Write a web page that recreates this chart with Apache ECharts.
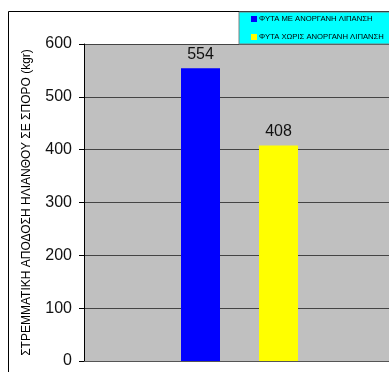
<!DOCTYPE html>
<html>
<head>
<meta charset="utf-8">
<script src="https://cdn.jsdelivr.net/npm/echarts@6/dist/echarts.min.js"></script>
<style>
  html, body { margin: 0; padding: 0; background: #fff; }
  #chart { width: 389px; height: 372px; }
</style>
</head>
<body>
<div id="chart"></div>
<script>
// δεδομένα
const categories = ["ΗΛΙΑΝΘΟΣ"];
const seriesNames = ["ΦΥΤΑ ΜΕ ΑΝΟΡΓΑΝΗ ΛΙΠΑΝΣΗ", "ΦΥΤΑ ΧΩΡΙΣ ΑΝΟΡΓΑΝΗ ΛΙΠΑΝΣΗ"];
const withFertilizer = [554];
const withoutFertilizer = [408];
const yTicks = [0, 100, 200, 300, 400, 500, 600];

const chart = echarts.init(document.getElementById("chart"));

const option = {
  animation: false,
  textStyle: { fontFamily: "Liberation Sans, Arial, sans-serif" },
  graphic: [
    {
      type: "rect",
      shape: { x: 8.5, y: 11.5, width: 420, height: 420 },
      style: { fill: null, stroke: "#000", lineWidth: 1 },
      z: -1,
    },
  ],
  legend: {
    orient: "vertical",
    left: 239,
    top: 12,
    padding: [3, 60, 3, 12],
    backgroundColor: "#00ffff",
    borderColor: "#808080",
    borderWidth: 1,
    itemWidth: 6,
    itemHeight: 6,
    itemGap: 10,
    icon: "rect",
    textStyle: { fontSize: 7.7, color: "#000", padding: [0, 0, 0, -3] },
    data: seriesNames,
  },
  grid: {
    left: 84,
    top: 44,
    right: -6,
    bottom: 11,
    outerBoundsMode: "none",
    show: true,
    backgroundColor: "#c0c0c0",
    borderWidth: 0,
  },
  xAxis: {
    type: "category",
    data: categories,
    axisLine: { show: true, lineStyle: { color: "#555", width: 1 } },
    axisTick: { show: false },
    axisLabel: { show: false },
  },
  yAxis: {
    type: "value",
    min: yTicks[0],
    max: yTicks[yTicks.length - 1],
    interval: 100,
    name: "ΣΤΡΕΜΜΑΤΙΚΗ ΑΠΟΔΟΣΗ ΗΛΙΑΝΘΟΥ ΣΕ ΣΠΟΡΟ (kgr)",
    nameLocation: "middle",
    nameGap: 51,
    nameTextStyle: { fontSize: 12, color: "#000" },
    axisLine: { show: true, lineStyle: { color: "#000", width: 1 } },
    axisTick: { show: true, length: 5, lineStyle: { color: "#000" } },
    axisLabel: { fontSize: 16, color: "#111", margin: 12 },
    splitLine: { show: true, lineStyle: { color: "#444", width: 1 } },
  },
  series: [
    {
      name: seriesNames[0],
      type: "bar",
      data: withFertilizer,
      barWidth: 39,
      barGap: "100%",
      itemStyle: { color: "#0000ff" },
      label: { show: true, position: "top", distance: 6, fontSize: 16, color: "#111" },
    },
    {
      name: seriesNames[1],
      type: "bar",
      data: withoutFertilizer,
      barWidth: 39,
      itemStyle: { color: "#ffff00" },
      label: { show: true, position: "top", distance: 6, fontSize: 16, color: "#111" },
    },
  ],
};

chart.setOption(option);
</script>
</body>
</html>
